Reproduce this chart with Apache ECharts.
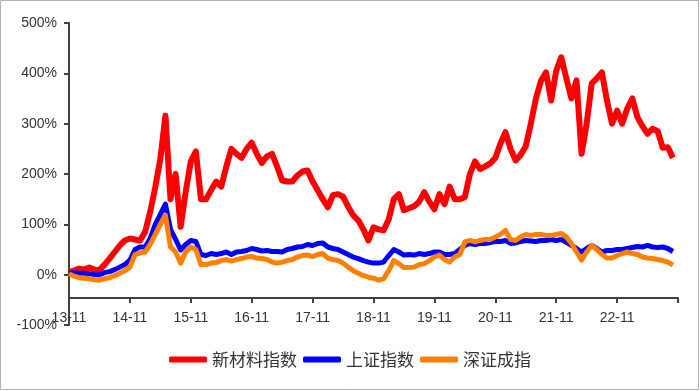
<!DOCTYPE html>
<html><head><meta charset="utf-8">
<script src="https://cdn.jsdelivr.net/npm/echarts@6/dist/echarts.min.js"></script>
<style>html,body{margin:0;padding:0;background:#fff}#c{width:700px;height:391px}</style>
</head><body><div id="c"></div>
<script>
// Monthly categories from 2013-11 to 2023-11
const startYear = 2013, startMonth = 11, monthCount = 121;
const categories = [];
for (let i = 0; i < monthCount; i++) {
  const t = startMonth - 1 + i;
  const y = startYear + Math.floor(t / 12), m = (t % 12) + 1;
  categories.push(String(y).slice(2) + '-' + String(m).padStart(2, '0'));
}
const seriesNames = ['新材料指数', '上证指数', '深证成指'];
const newMaterial = [5,8,12,10,14,10,9,20,32,45,58,68,72,70,68,85,125,174,230,316,150,200,95,165,225,245,150,150,168,185,175,215,250,240,232,250,262,240,222,235,240,215,187,185,185,197,205,207,185,168,150,134,158,160,155,135,118,108,90,68,94,90,88,110,150,160,128,132,136,145,164,145,130,160,140,175,150,150,154,200,225,210,215,221,232,260,283,250,227,238,255,300,350,385,402,346,405,432,390,350,386,240,300,380,390,402,346,300,326,300,330,350,313,295,280,290,285,252,253,232];
const shanghai = [3,4,3,3,2,0,0,4,6,10,15,20,29,50,55,55,72,100,120,140,90,70,49,60,68,66,40,38,42,40,42,45,40,45,46,48,52,50,47,48,46,46,45,50,52,55,56,60,58,62,63,55,52,50,45,40,35,32,28,25,23,23,25,38,50,45,39,40,39,42,40,42,45,45,40,40,42,50,58,62,60,62,62,64,66,66,68,62,63,66,68,67,66,68,68,70,68,70,64,58,52,45,52,58,52,45,48,48,50,50,52,54,56,55,58,55,54,55,52,46];
const shenzhen = [2,-3,-6,-7,-8,-10,-11,-8,-6,-2,3,8,15,40,43,45,60,80,100,118,55,45,23,45,55,50,20,20,23,24,28,30,27,30,32,35,36,33,32,30,25,23,25,28,30,35,38,39,36,40,42,33,30,28,23,15,8,3,-2,-5,-7,-11,-8,8,28,22,14,14,15,20,22,28,35,39,30,25,35,40,65,68,65,68,70,70,75,80,88,70,68,75,80,78,80,80,78,78,80,82,75,62,45,29,45,58,50,40,33,33,38,42,45,42,40,35,33,32,30,28,25,19];
const yTicks = { min: -100, max: 500, interval: 100 };
const colors = ['#ff0000', '#0000ff', '#ff8000'];

const chart = echarts.init(document.getElementById('c'), null, { renderer: 'canvas' });
const axisColor = '#404040';
chart.setOption({
  animation: false,
  backgroundColor: '#fff',
  graphic: [{ type: 'rect', shape: { x: 0.5, y: 0.5, width: 698, height: 389 }, style: { fill: 'none', stroke: '#b0b0b0', lineWidth: 1 }, silent: true }],
  legend: {
    bottom: 18, left: 'center',
    itemWidth: 38, itemHeight: 6, itemGap: 6, icon: 'roundRect',
    textStyle: { fontSize: 17, color: '#333', fontFamily: 'Noto Sans CJK SC' },
    data: seriesNames
  },
  grid: { left: 69, right: 22, top: 23, bottom: 66 },
  xAxis: {
    type: 'category', data: categories, boundaryGap: false,
    offset: -27,
    axisLine: { onZero: false, lineStyle: { color: axisColor, width: 2 } },
    axisTick: { show: true, length: 5, inside: false, interval: (i) => i % 12 === 0, lineStyle: { color: axisColor, width: 2 } },
    axisLabel: { interval: (i) => i % 12 === 0 && i < 120, margin: 13, fontSize: 14, color: '#333', fontFamily: 'Liberation Sans' },
    splitLine: { show: false }
  },
  yAxis: {
    type: 'value', min: yTicks.min, max: yTicks.max, interval: yTicks.interval,
    axisLine: { show: true, lineStyle: { color: axisColor, width: 2 } },
    axisTick: { show: true, length: 5, lineStyle: { color: axisColor, width: 2 } },
    axisLabel: { formatter: '{value}%', margin: 12, fontSize: 14, color: '#333', fontFamily: 'Liberation Sans' },
    splitLine: { show: false }
  },
  series: [
    { name: seriesNames[0], type: 'line', data: newMaterial, showSymbol: false, color: colors[0], lineStyle: { width: 6, color: colors[0], join: 'round' } },
    { name: seriesNames[1], type: 'line', data: shanghai, showSymbol: false, color: colors[1], lineStyle: { width: 5, color: colors[1], join: 'round' } },
    { name: seriesNames[2], type: 'line', data: shenzhen, showSymbol: false, color: colors[2], lineStyle: { width: 5, color: colors[2], join: 'round' } }
  ]
});
</script></body></html>
